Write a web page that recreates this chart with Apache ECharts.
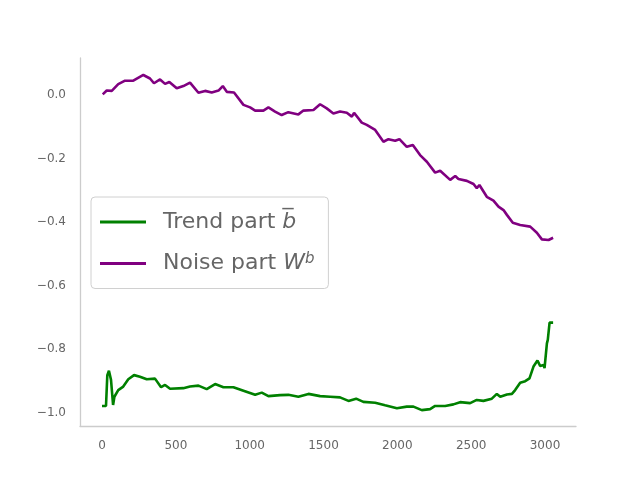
<!DOCTYPE html>
<html><head><meta charset="utf-8">
<script src="https://cdn.jsdelivr.net/npm/echarts@6/dist/echarts.min.js"></script>
<style>html,body{margin:0;padding:0;background:#fff}#c{width:640px;height:480px}</style>
</head><body><div id="c"></div>
<script>
const noiseX = [5,32,66,110,156,212,280,325,352,393,427,456,506,551,596,653,698,743,789,818,845,894,958,1003,1037,1093,1127,1172,1217,1262,1330,1364,1432,1477,1522,1567,1612,1658,1692,1707,1759,1793,1850,1906,1940,1985,2014,2064,2105,2154,2200,2256,2290,2358,2392,2414,2471,2516,2538,2556,2606,2651,2685,2719,2742,2782,2832,2900,2945,2979,3024,3055];
const noiseY = [0.002,0.014,0.013,0.034,0.045,0.045,0.063,0.052,0.037,0.049,0.035,0.041,0.021,0.028,0.039,0.007,0.013,0.008,0.014,0.028,0.010,0.008,-0.031,-0.039,-0.049,-0.049,-0.039,-0.052,-0.063,-0.054,-0.061,-0.049,-0.047,-0.029,-0.042,-0.058,-0.052,-0.056,-0.068,-0.056,-0.087,-0.094,-0.110,-0.147,-0.139,-0.144,-0.139,-0.163,-0.157,-0.189,-0.210,-0.244,-0.238,-0.267,-0.255,-0.264,-0.270,-0.280,-0.293,-0.283,-0.320,-0.332,-0.351,-0.362,-0.377,-0.402,-0.409,-0.414,-0.433,-0.454,-0.456,-0.449];
const trendX = [0,27,36,47,61,75,84,110,144,178,217,257,303,359,400,427,461,551,596,653,709,766,822,890,958,1037,1082,1127,1206,1262,1330,1398,1477,1545,1612,1669,1721,1770,1850,1917,1997,2064,2109,2166,2222,2256,2324,2380,2425,2493,2538,2583,2640,2674,2697,2742,2776,2798,2832,2866,2895,2922,2949,2967,2990,2997,3013,3019,3031,3055];
const trendY = [-0.978,-0.978,-0.881,-0.867,-0.896,-0.975,-0.949,-0.928,-0.917,-0.894,-0.881,-0.886,-0.894,-0.892,-0.919,-0.912,-0.924,-0.922,-0.917,-0.914,-0.925,-0.909,-0.919,-0.919,-0.930,-0.943,-0.936,-0.947,-0.944,-0.943,-0.949,-0.940,-0.947,-0.949,-0.951,-0.962,-0.955,-0.965,-0.968,-0.976,-0.985,-0.980,-0.980,-0.991,-0.988,-0.978,-0.978,-0.973,-0.966,-0.969,-0.959,-0.962,-0.955,-0.940,-0.949,-0.942,-0.940,-0.928,-0.905,-0.900,-0.891,-0.854,-0.835,-0.852,-0.849,-0.859,-0.781,-0.770,-0.716,-0.716];
const xTicks = [0,500,1000,1500,2000,2500,3000];
const yTicks = [-1.0,-0.8,-0.6,-0.4,-0.2,0.0];
const seriesNames = ['Trend part', 'Noise part'];

const zip = (xs, ys) => xs.map((x, i) => [x, ys[i]]);
const chart = echarts.init(document.getElementById('c'), null, {renderer: 'canvas'});
const axisCol = '#cccccc', txtCol = '#666666', font = 'DejaVu Sans';
chart.setOption({
  animation: false,
  backgroundColor: '#fff',
  grid: {left: 80, right: 64, top: 58, bottom: 54},
  xAxis: {
    type: 'value', min: -149, max: 3210,
    axisLine: {show: true, onZero: false, lineStyle: {color: axisCol, width: 1.3}},
    axisTick: {show: false},
    splitLine: {show: false},
    axisLabel: {customValues: xTicks, color: txtCol, fontFamily: font, fontSize: 12, margin: 14, formatter: v => String(v)}
  },
  yAxis: {
    type: 'value', min: -1.041, max: 0.1164,
    axisLine: {show: true, onZero: false, lineStyle: {color: axisCol, width: 1.3}},
    axisTick: {show: false},
    splitLine: {show: false},
    axisLabel: {customValues: yTicks, color: txtCol, fontFamily: font, fontSize: 12, margin: 14,
      formatter: v => (v < 0 ? '\u2212' : '') + Math.abs(v).toFixed(1)}
  },
  legend: {
    show: true, orient: 'vertical', left: 91, top: 197,
    padding: [14, 14, 14, 9], itemGap: 19,
    backgroundColor: '#fff', borderColor: '#d0d0d0', borderWidth: 1, borderRadius: 4,
    icon: 'rect', itemWidth: 46, itemHeight: 3,
    data: seriesNames,
    formatter: name => name === 'Trend part' ? '{n|Trend part }{it|b\u0305}' : '{n|Noise part }{it|W}{sup|b}',
    textStyle: {
      color: txtCol, fontFamily: font, fontSize: 22, padding: [0, 0, 0, 12],
      rich: {
        n: {color: txtCol, fontFamily: font, fontSize: 22},
        it: {color: txtCol, fontFamily: font, fontSize: 22, fontStyle: 'italic'},
        sup: {color: txtCol, fontFamily: font, fontSize: 15, fontStyle: 'italic', verticalAlign: 'top', padding: [0, 0, 8, 0]}
      }
    }
  },
  series: [
    {name: seriesNames[0], type: 'line', data: zip(trendX, trendY), showSymbol: false, symbol: 'none',
     lineStyle: {color: '#008000', width: 2.6}, itemStyle: {color: '#008000'}},
    {name: seriesNames[1], type: 'line', data: zip(noiseX, noiseY), showSymbol: false, symbol: 'none',
     lineStyle: {color: '#800080', width: 2.6}, itemStyle: {color: '#800080'}}
  ]
});
</script></body></html>
